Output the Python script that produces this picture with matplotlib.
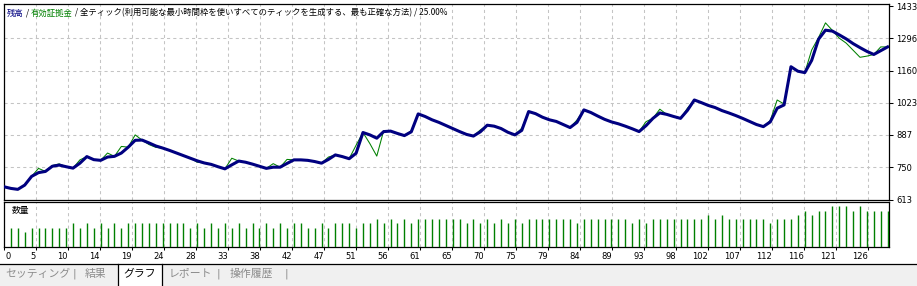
import matplotlib
matplotlib.use('Agg')
import matplotlib.pyplot as plt
from matplotlib.patches import Rectangle
from matplotlib.lines import Line2D
from matplotlib.transforms import ScaledTranslation

W, H, DPI = 917, 286, 100

# ---------------- data ----------------
balance = [667, 660, 656, 674, 711, 727, 732, 754, 759, 752,
           746, 767, 795, 782, 779, 793, 796, 810, 835, 864,
           865, 853, 840, 831, 821, 810, 799, 788, 777, 768,
           762, 752, 743, 760, 776, 771, 763, 754, 745, 750,
           750, 766, 781, 781, 779, 774, 767, 783, 802, 795,
           786, 809, 897, 887, 873, 901, 903, 893, 884, 900,
           976, 965, 951, 940, 927, 914, 901, 889, 882, 900,
           928, 924, 914, 898, 887, 906, 986, 977, 962, 951,
           944, 931, 918, 940, 993, 982, 967, 953, 942, 934,
           924, 913, 901, 926, 957, 980, 974, 965, 957, 991,
           1035, 1024, 1012, 1003, 990, 980, 969, 957, 944, 931,
           922, 942, 1000, 1014, 1176, 1157, 1151, 1203, 1293, 1331,
           1327, 1311, 1294, 1274, 1257, 1241, 1228, 1244, 1260]

equity = [667, 660, 656, 674, 711, 745, 732, 757, 764, 752,
          746, 781, 795, 782, 779, 810, 796, 838, 835, 887,
          865, 846, 834, 831, 821, 810, 799, 788, 771, 768,
          762, 752, 743, 788, 776, 771, 763, 754, 745, 765,
          750, 783, 781, 781, 779, 774, 767, 793, 802, 795,
          786, 843, 897, 850, 797, 905, 903, 893, 884, 905,
          976, 965, 951, 940, 927, 914, 901, 889, 882, 908,
          928, 924, 914, 898, 887, 915, 986, 977, 962, 951,
          944, 931, 918, 950, 993, 982, 967, 953, 942, 934,
          924, 913, 901, 943, 957, 996, 974, 965, 957, 1000,
          1035, 1024, 1012, 1003, 990, 980, 969, 957, 944, 931,
          922, 948, 1035, 1018, 1176, 1157, 1151, 1247, 1300, 1362,
          1330, 1297, 1276, 1246, 1216, 1221, 1228, 1260, 1260]

volume = [0.09, 0.09, 0.07, 0.09, 0.09, 0.09, 0.09, 0.09, 0.09, 0.11,
          0.09, 0.11, 0.09, 0.11, 0.09, 0.11, 0.09, 0.11, 0.11, 0.11,
          0.11, 0.11, 0.11, 0.11, 0.11, 0.11, 0.09, 0.11, 0.09, 0.11,
          0.09, 0.11, 0.09, 0.11, 0.09, 0.11, 0.09, 0.11, 0.09, 0.11,
          0.09, 0.11, 0.11, 0.09, 0.09, 0.11, 0.09, 0.11, 0.11, 0.11,
          0.09, 0.11, 0.11, 0.13, 0.11, 0.13, 0.11, 0.13, 0.11, 0.13,
          0.13, 0.13, 0.13, 0.13, 0.13, 0.13, 0.11, 0.13, 0.11, 0.13,
          0.11, 0.13, 0.11, 0.13, 0.11, 0.13, 0.13, 0.13, 0.13, 0.13,
          0.13, 0.13, 0.11, 0.13, 0.13, 0.13, 0.13, 0.13, 0.13, 0.13,
          0.11, 0.13, 0.11, 0.13, 0.13, 0.13, 0.13, 0.13, 0.13, 0.13,
          0.13, 0.15, 0.13, 0.15, 0.13, 0.13, 0.13, 0.13, 0.13, 0.13,
          0.11, 0.13, 0.13, 0.13, 0.15, 0.17, 0.15, 0.17, 0.17, 0.19,
          0.19, 0.19, 0.17, 0.19, 0.17, 0.17, 0.17, 0.17]

x_tick_labels = ['0', '5', '10', '14', '19', '24', '28', '33', '38', '42',
                 '47', '51', '56', '61', '65', '70', '75', '79', '84', '89',
                 '93', '98', '102', '107', '112', '116', '121', '126']
y_ticks = [613, 750, 887, 1023, 1160, 1296, 1433]

title_balance = '残高'
title_equity = '有効証拠金'
title_rest = '全ティック(利用可能な最小時間枠を使いすべてのティックを生成する、最も正確な方法)'
title_pct = '25.00%'
vol_label = '数量'
tabs = ['セッティング', '結果', 'グラフ', 'レポート', '操作履歴']
selected_tab = 'グラフ'

# ---------------- style ----------------
plt.rcParams['font.family'] = ['Noto Sans CJK JP', 'DejaVu Sans']
NAVY = '#000080'
GREEN = '#008000'
GRID = '#c4c4c4'
DASH = (0, (3, 3))

fig = plt.figure(figsize=(W / DPI, H / DPI), dpi=DPI)
fig.patch.set_facecolor('white')


def box(x0, y0, x1, y1):
    return [x0 / W, 1 - y1 / H, (x1 - x0) / W, (y1 - y0) / H]


ax = fig.add_axes(box(4, 4, 889, 199.5))
axv = fig.add_axes(box(4, 201.5, 889, 246.7), sharex=ax)

n = len(balance)
idx = list(range(n))
vidx = list(range(1, len(volume) + 1))
grid_step = 4.6357
xt = [k * grid_step for k in range(len(x_tick_labels))]

# main chart
ax.plot(idx, equity, color=GREEN, lw=0.75, zorder=3)
ax.plot(idx, balance, color=NAVY, lw=2.2, zorder=4, solid_joinstyle='round')
ax.set_xlim(0, 128.2)
ax.set_ylim(613, 1442)
ax.set_yticks(y_ticks)
ax.set_yticklabels([str(v) for v in y_ticks], family='DejaVu Sans')
ax.yaxis.tick_right()
ax.tick_params(axis='y', which='both', length=3, width=0.75, pad=2,
               labelsize=6, direction='out', colors='black')
ax.set_xticks(xt)
ax.tick_params(axis='x', length=0, labelbottom=False)
ax.set_axisbelow(True)
ax.grid(True, color=GRID, linestyle=DASH, lw=0.75)
gl = ax.yaxis.get_gridlines()
gl[0].set_visible(False)
gl[-1].set_visible(False)
for s in ax.spines.values():
    s.set_linewidth(0.9)
    s.set_color('black')

# volume chart
axv.vlines(vidx, 0, volume, colors=GREEN, lw=1.0, zorder=3)
axv.set_ylim(0, 0.2132)
axv.set_yticks([])
axv.set_xticks(xt)
axv.set_xticklabels(x_tick_labels, family='DejaVu Sans')
axv.tick_params(axis='x', length=2, width=0.75, pad=1.5, labelsize=6)
axv.set_axisbelow(True)
axv.grid(True, axis='x', color=GRID, linestyle=DASH, lw=0.75)
for i, lab in enumerate(axv.get_xticklabels()):
    if i == 0:
        lab.set_ha('left')
        lab.set_transform(lab.get_transform() + ScaledTranslation(2 / DPI, 0, fig.dpi_scale_trans))
    else:
        lab.set_ha('right')
for s in axv.spines.values():
    s.set_linewidth(0.9)
    s.set_color('black')
axv.text(8 / 885, 1 - (210 - 201.5) / 45.2, vol_label, transform=axv.transAxes,
         fontsize=6.3, va='center', ha='left', color='black')

# title (multi-coloured)
renderer = fig.canvas.get_renderer()
fs = 6.0
x = 7
for txt, col in [(title_balance, NAVY), (' / ', 'black'), (title_equity, GREEN),
                 (' / ' + title_rest + ' / ' + title_pct, 'black')]:
    t = fig.text(x / W, 1 - 13 / H, txt, color=col, fontsize=fs, va='center', ha='left')
    x += t.get_window_extent(renderer).width

# tab bar
fig.add_artist(Rectangle((0, 0), 1, (H - 264) / H, transform=fig.transFigure,
                         facecolor='#f0f0f0', edgecolor='none', zorder=0))
tab_centers = [38, 96, 140, 190.5, 251.5]
seps = [74, 218, 286]
sel = tabs.index(selected_tab)
fig.add_artist(Rectangle((118 / W, 0), 44 / W, (H - 264) / H, transform=fig.transFigure,
                         facecolor='white', edgecolor='none', zorder=1))
for xx in (118, 162):
    fig.add_artist(Line2D([xx / W, xx / W], [0, 1 - 264 / H], color='black', lw=0.9,
                          transform=fig.transFigure, zorder=2))
fig.add_artist(Line2D([0, 1], [1 - 264 / H, 1 - 264 / H], color='black', lw=0.9,
                      transform=fig.transFigure, zorder=2))
for i, (name, cx) in enumerate(zip(tabs, tab_centers)):
    fig.text(cx / W, 1 - 273.5 / H, name, fontsize=7.8, ha='center', va='center',
             color='black' if i == sel else '#8c8c8c', zorder=3)
for sx in seps:
    fig.text(sx / W, 1 - 273.5 / H, '|', fontsize=7.8, ha='center', va='center',
             color='#8c8c8c', family='DejaVu Sans', zorder=3)

fig.savefig('out.png', dpi=DPI, facecolor=fig.get_facecolor())
